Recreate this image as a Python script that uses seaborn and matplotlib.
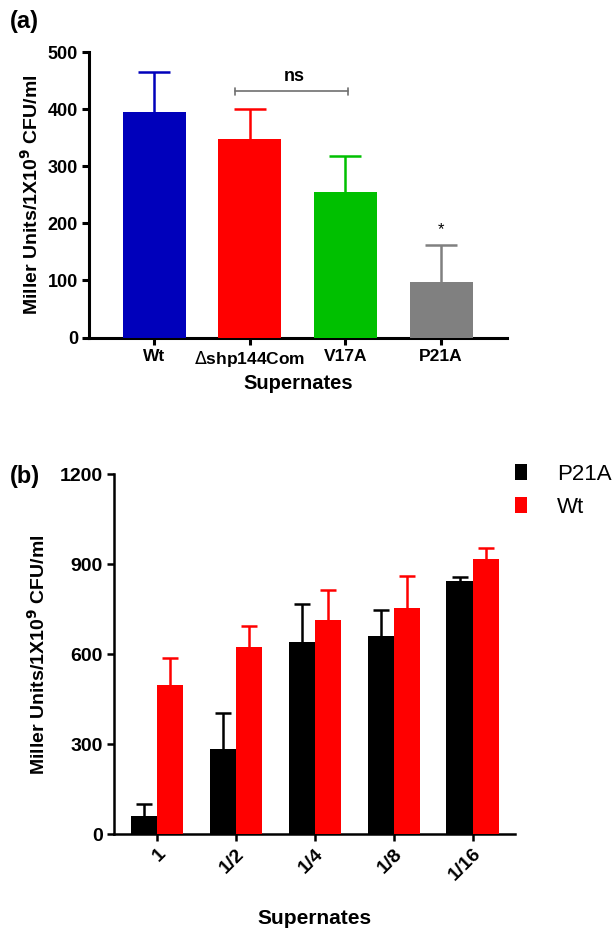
import matplotlib
matplotlib.use("Agg")
import matplotlib.pyplot as plt
import seaborn as sns
import pandas as pd
import numpy as np
from matplotlib.patches import Patch

# ---- data panel (a)
a_samples = ["Wt", "$\\Delta$shp144Com", "V17A", "P21A"]
a_values = [395, 348, 255, 98]
a_errors = [70, 52, 63, 65]
a_colors = ["#0000BB", "#FF0000", "#00C000", "#808080"]

# ---- data panel (b)
b_dilutions = ["1", "1/2", "1/4", "1/8", "1/16"]
b_p21a = [61, 283, 640, 662, 843]
b_p21a_err = [40, 120, 127, 87, 13]
b_wt = [496, 623, 713, 754, 918]
b_wt_err = [91, 70, 100, 107, 36]
b_strains = ["P21A", "Wt"]
b_colors = ["#000000", "#FF0000"]

sns.set_theme(style="ticks")
plt.rcParams['font.family'] = ['Liberation Sans', 'DejaVu Sans']
plt.rcParams.update({
    "text.color": "black", "axes.labelcolor": "black",
    "xtick.color": "black", "ytick.color": "black",
    "axes.edgecolor": "black",
})
narrow = ['Liberation Sans Narrow', 'Liberation Sans', 'DejaVu Sans']


def upper_err(ax, xs, ys, errs, color, capsize, lw=1.8):
    eb = ax.errorbar(xs, ys, yerr=[np.zeros(len(errs)), errs], fmt="none",
                     ecolor=color, elinewidth=lw, capsize=capsize, capthick=lw,
                     zorder=2)
    caps = eb[1]
    if len(caps) == 2:
        caps[0].set_visible(False)


fig = plt.figure(figsize=(6.14, 9.3), dpi=100)

# ================= panel (a)
axa = fig.add_axes([0.145, 0.637, 0.681, 0.307])
dfa = pd.DataFrame({"sample": a_samples, "value": a_values})
sns.barplot(data=dfa, x="sample", y="value", hue="sample", palette=a_colors,
            width=0.66, saturation=1, legend=False, ax=axa, zorder=3,
            linewidth=0, edgecolor="none")
for i, (v, e, c) in enumerate(zip(a_values, a_errors, a_colors)):
    upper_err(axa, [i], [v], [e], c, 11.5)
axa.set_ylim(0, 500)
axa.set_xlim(-0.68, 3.69)
axa.set_yticks([0, 100, 200, 300, 400, 500])
for s in ["top", "right"]:
    axa.spines[s].set_visible(False)
for s in ["left", "bottom"]:
    axa.spines[s].set_linewidth(2.2)
axa.tick_params(axis="both", width=2.2, length=5, pad=3)
axa.tick_params(axis="y", labelsize=13)
axa.tick_params(axis="x", labelsize=12.5)
for lab in axa.get_xticklabels() + axa.get_yticklabels():
    lab.set_fontweight("bold")
axa.set_xlabel("Supernates", fontsize=14.5, fontweight="bold", labelpad=4)
axa.set_ylabel("Miller Units/1X10$^\\mathbf{9}$ CFU/ml", fontsize=14,
               fontweight="bold", labelpad=4)
# ns bracket
axa.plot([0.85, 2.03], [431, 431], color="#707070", lw=1.2, zorder=4)
axa.plot([0.85, 0.85], [425, 437], color="#707070", lw=1.2, zorder=4)
axa.plot([2.03, 2.03], [425, 437], color="#707070", lw=1.2, zorder=4)
axa.text(1.47, 443, "ns", ha="center", va="bottom", fontsize=13, fontweight="bold")
axa.text(3, 176, "*", ha="center", va="bottom", fontsize=12)

fig.text(0.016, 0.977, "(a)", fontsize=17, fontweight="bold", va="center")

# ================= panel (b)
axb = fig.add_axes([0.186, 0.103, 0.653, 0.387])
dfb = pd.DataFrame({
    "dilution": b_dilutions * 2,
    "value": b_p21a + b_wt,
    "strain": [b_strains[0]] * len(b_dilutions) + [b_strains[1]] * len(b_dilutions),
})
sns.barplot(data=dfb, x="dilution", y="value", hue="strain", palette=b_colors,
            width=0.66, saturation=1, ax=axb, zorder=3, legend=False,
            linewidth=0, edgecolor="none")
for vals, errs, col, off in [(b_p21a, b_p21a_err, b_colors[0], -0.165),
                             (b_wt, b_wt_err, b_colors[1], 0.165)]:
    xs = np.arange(len(vals)) + off
    upper_err(axb, xs, vals, errs, col, 6)
axb.set_ylim(0, 1200)
axb.set_xlim(-0.54, 4.54)
axb.set_yticks([0, 300, 600, 900, 1200])
for s in ["top", "right"]:
    axb.spines[s].set_visible(False)
for s in ["left", "bottom"]:
    axb.spines[s].set_linewidth(1.8)
axb.tick_params(axis="both", width=1.8, length=5, labelsize=14, pad=3)
for lab in axb.get_yticklabels():
    lab.set_fontweight("bold")
    lab.set_family(narrow)
for lab in axb.get_xticklabels():
    lab.set_fontweight("bold")
    lab.set_family(narrow)
    lab.set_rotation(45)
    lab.set_ha("right")
    lab.set_rotation_mode("anchor")
axb.set_xlabel("Supernates", fontsize=15, fontweight="bold", family=narrow, labelpad=18)
axb.set_ylabel("Miller Units/1X10$^\\mathbf{9}$ CFU/ml", fontsize=14,
               fontweight="bold", labelpad=8)
handles = [Patch(facecolor=c, edgecolor="none", label=s) for s, c in zip(b_strains, b_colors)]
axb.legend(handles=handles, loc="upper left", bbox_to_anchor=(1.0, 1.03),
           frameon=False, fontsize=16, handlelength=0.55, handleheight=0.75,
           handletextpad=1.35, labelspacing=0.55, borderpad=0, borderaxespad=0)

fig.text(0.016, 0.488, "(b)", fontsize=17, fontweight="bold", va="center")

fig.savefig("out.png", dpi=100)
